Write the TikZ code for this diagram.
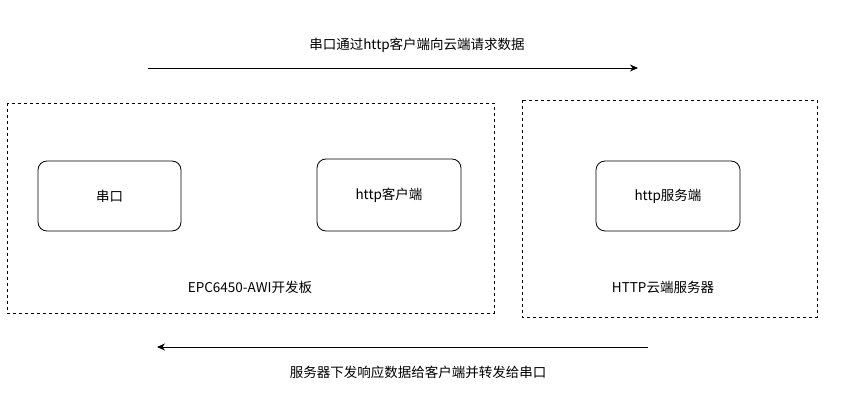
\documentclass[tikz,border=0pt]{standalone}
\usepackage{fontspec}
\setmainfont{Noto Sans CJK SC}
\usetikzlibrary{arrows.meta}
\begin{document}
\begin{tikzpicture}[x=1pt,y=-1pt,
  dbox/.style={draw,dashed,line width=0.8pt},
  rbox/.style={draw,rounded corners=9pt,line width=0.8pt},
  lbl/.style={font=\fontsize{13.5}{15}\selectfont},
  arr/.style={-{Stealth[length=8pt,width=7pt]},line width=0.8pt}]
\useasboundingbox (0,0) rectangle (850,403);
\node[lbl] (t1) at (417,45) {串口通过http客户端向云端请求数据};
\coordinate (a1s) at (148,68); \coordinate (a1e) at (638,68);
\draw[arr] (a1s) -- (a1e);
\draw[dbox] (7,103) rectangle (494,313);
\draw[dbox] (522,100) rectangle (817,317);
\node[rbox,minimum width=143pt,minimum height=70pt,lbl] (c) at (109.5,196) {串口};
\node[rbox,minimum width=144pt,minimum height=72pt,lbl] (h) at (389,195) {http客户端};
\node[rbox,minimum width=144pt,minimum height=70pt,lbl] (s) at (668,196) {http服务端};
\node[lbl] (l1) at (250,287) {EPC6450-AWI开发板};
\node[lbl] (l2) at (663,287) {HTTP云端服务器};
\coordinate (a2s) at (648,347); \coordinate (a2e) at (157,347);
\draw[arr] (a2s) -- (a2e);
\node[lbl] (t2) at (418,372) {服务器下发响应数据给客户端并转发给串口};
\end{tikzpicture}
\end{document}
